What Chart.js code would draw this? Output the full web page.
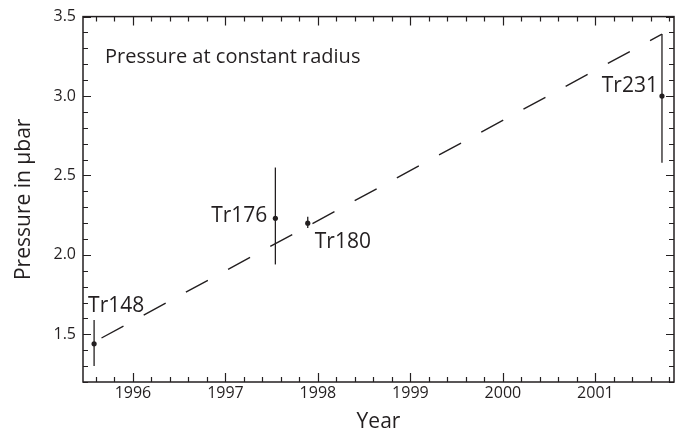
<!DOCTYPE html>
<html lang="en">
<head>
<meta charset="UTF-8">
<title>Pressure at constant radius</title>
<script src="https://cdn.jsdelivr.net/npm/chart.js"></script>
<style>
    body { margin: 0; background: #fff; }
</style>
</head>
<body>
<canvas id="pressureChart" width="680" height="438"></canvas>
<script>
    // flyby measurements
    const flybys = ["Tr148", "Tr176", "Tr180", "Tr231"];
    const flybyYear = [1995.58, 1997.54, 1997.89, 2001.72];
    const pressure = [1.44, 2.23, 2.20, 3.00];
    const errLow = [1.30, 1.94, 2.17, 2.58];
    const errHigh = [1.59, 2.55, 2.24, 3.39];

    // dashed trend line end points
    const trendYear = [1995.66, 2001.72];
    const trendPressure = [1.477, 3.39];

    const yearTicks = [1996, 1997, 1998, 1999, 2000, 2001];
    const pressureTicks = [1.5, 2.0, 2.5, 3.0, 3.5];

    const ink = "#231f20";
    const fontFamily = '"Open Sans", sans-serif';
    Chart.defaults.font.family = fontFamily;
    Chart.defaults.color = ink;

    const errorBars = {
        id: "errorBars",
        beforeDatasetsDraw(chart) {
            const {ctx, scales: {x, y}} = chart;
            ctx.save();
            ctx.strokeStyle = ink;
            ctx.lineWidth = 1.3;
            flybys.forEach((name, i) => {
                const px = x.getPixelForValue(flybyYear[i]);
                ctx.beginPath();
                ctx.moveTo(px, y.getPixelForValue(errLow[i]));
                ctx.lineTo(px, y.getPixelForValue(errHigh[i]));
                ctx.stroke();
            });
            ctx.restore();
        }
    };

    const frameAndLabels = {
        id: "frameAndLabels",
        afterDraw(chart, args, opts) {
            const {ctx, chartArea: a, scales: {x, y}} = chart;
            ctx.save();
            ctx.strokeStyle = ink;
            ctx.lineWidth = 1.5;
            ctx.strokeRect(a.left, a.top, a.right - a.left, a.bottom - a.top);

            // inward ticks on all four sides
            ctx.lineWidth = 1.2;
            ctx.beginPath();
            for (let k = Math.ceil(x.min * 5); k <= Math.floor(x.max * 5); k++) {
                const px = Math.round(x.getPixelForValue(k / 5)) + 0.5;
                const len = k % 5 === 0 ? 9 : 5;
                ctx.moveTo(px, a.bottom); ctx.lineTo(px, a.bottom - len);
                ctx.moveTo(px, a.top); ctx.lineTo(px, a.top + len);
            }
            for (let k = Math.ceil(y.min * 10); k <= Math.floor(y.max * 10); k++) {
                const py = Math.round(y.getPixelForValue(k / 10)) + 0.5;
                const len = k % 5 === 0 ? 8 : 5;
                ctx.moveTo(a.left, py); ctx.lineTo(a.left + len, py);
                ctx.moveTo(a.right, py); ctx.lineTo(a.right - len, py);
            }
            ctx.stroke();

            // flyby labels
            ctx.fillStyle = ink;
            ctx.font = "21px " + fontFamily;
            ctx.textBaseline = "alphabetic";
            flybys.forEach((name, i) => {
                const o = opts.offsets[i];
                ctx.textAlign = o.align;
                ctx.fillText(name, x.getPixelForValue(flybyYear[i]) + o.dx, y.getPixelForValue(pressure[i]) + o.dy);
            });

            // panel title
            ctx.textAlign = "left";
            ctx.font = "20px " + fontFamily;
            ctx.fillText("Pressure at constant radius", a.left + 22, a.top + 46);
            ctx.restore();
        }
    };

    new Chart(document.getElementById("pressureChart"), {
        type: "scatter",
        data: {
            datasets: [
                {
                    label: "Trend",
                    data: trendYear.map((v, i) => ({x: v, y: trendPressure[i]})),
                    showLine: true,
                    borderColor: ink,
                    borderWidth: 1.4,
                    borderDash: [25, 23],
                    pointRadius: 0,
                    fill: false
                },
                {
                    label: "Pressure",
                    data: flybyYear.map((v, i) => ({x: v, y: pressure[i]})),
                    pointRadius: 2.6,
                    backgroundColor: ink,
                    borderWidth: 0
                }
            ]
        },
        options: {
            responsive: false,
            animation: false,
            layout: {padding: {top: 15, right: 6, left: 0, bottom: 0}},
            plugins: {
                legend: {display: false},
                tooltip: {enabled: false},
                frameAndLabels: {
                    offsets: [
                        {dx: -6, dy: -32, align: "left"},
                        {dx: -8, dy: 4, align: "right"},
                        {dx: 7, dy: 25, align: "left"},
                        {dx: -4, dy: -4, align: "right"}
                    ]
                }
            },
            scales: {
                x: {
                    type: "linear",
                    min: 1995.46,
                    max: 2001.85,
                    afterBuildTicks: s => { s.ticks = yearTicks.map(v => ({value: v})); },
                    afterFit: s => { s.height = 56; },
                    grid: {display: false, drawTicks: false},
                    border: {display: false},
                    ticks: {
                        font: {size: 16},
                        color: ink,
                        padding: 2,
                        maxRotation: 0,
                        autoSkip: false,
                        callback: v => String(v)
                    },
                    title: {
                        display: true,
                        text: "Year",
                        font: {size: 21},
                        color: ink,
                        padding: {top: 0, bottom: 3}
                    }
                },
                y: {
                    min: 1.2,
                    max: 3.5,
                    afterBuildTicks: s => { s.ticks = pressureTicks.map(v => ({value: v})); },
                    afterFit: s => { s.width = 83; },
                    grid: {display: false, drawTicks: false},
                    border: {display: false},
                    ticks: {
                        font: {size: 16},
                        color: ink,
                        padding: 7,
                        callback: v => v.toFixed(1)
                    },
                    title: {
                        display: true,
                        text: "Pressure in µbar",
                        font: {size: 21},
                        color: ink,
                        padding: {top: 11, bottom: 0}
                    }
                }
            }
        },
        plugins: [errorBars, frameAndLabels]
    });
</script>
</body>
</html>
